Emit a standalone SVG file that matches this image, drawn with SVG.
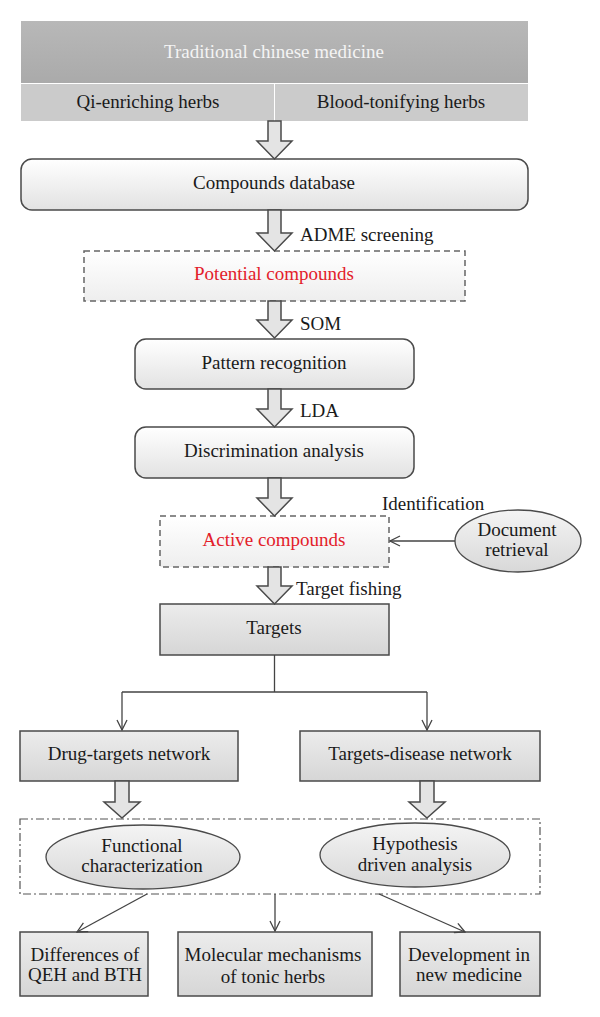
<svg xmlns="http://www.w3.org/2000/svg" width="600" height="1017" viewBox="0 0 600 1017">
<defs>
<linearGradient id="gBox" x1="0" y1="0" x2="0" y2="1"><stop offset="0" stop-color="#ffffff"/><stop offset="1" stop-color="#e2e2e2"/></linearGradient>
<linearGradient id="gRect" x1="0" y1="0" x2="0" y2="1"><stop offset="0" stop-color="#ececec"/><stop offset="1" stop-color="#d6d6d6"/></linearGradient>
<linearGradient id="gDash" x1="0" y1="0" x2="0" y2="1"><stop offset="0" stop-color="#ffffff"/><stop offset="1" stop-color="#eeeeee"/></linearGradient>
<linearGradient id="gEll" x1="0" y1="0" x2="0" y2="1"><stop offset="0" stop-color="#f4f4f4"/><stop offset="1" stop-color="#d8d8d8"/></linearGradient>
<linearGradient id="gTop" x1="0" y1="0" x2="0" y2="1"><stop offset="0" stop-color="#b8b8b8"/><stop offset="1" stop-color="#aaaaaa"/></linearGradient>
<marker id="open" viewBox="0 0 12 12" refX="11" refY="6" markerWidth="12" markerHeight="12" markerUnits="userSpaceOnUse" orient="auto"><path d="M1,1 L11,6 L1,11" fill="none" stroke="#444" stroke-width="1.3"/></marker>
</defs>
<style>
text{font-family:"Liberation Serif","Times New Roman",serif;font-size:19px;fill:#1a1a1a;text-anchor:middle}
.l{text-anchor:start}
.red{fill:#e3202a}
.wht{fill:#f4f4f4}
.rnd{fill:url(#gBox);stroke:#4a4a4a;stroke-width:1.5}
.rct{fill:url(#gRect);stroke:#4a4a4a;stroke-width:1.5}
.dash{fill:url(#gDash);stroke:#666;stroke-width:1.5;stroke-dasharray:6 4}
.ell{fill:url(#gEll);stroke:#4a4a4a;stroke-width:1.3}
.blk{fill:#e4e4e4;stroke:#4a4a4a;stroke-width:1.5;stroke-linejoin:miter}
.ln{fill:none;stroke:#444;stroke-width:1.3}
</style>
<g id="tcm">
<rect x="21" y="21" width="507" height="62" fill="url(#gTop)"/>
<text class="wht" x="274" y="58">Traditional chinese medicine</text>
</g>
<g id="qi">
<rect x="21" y="84" width="253" height="37" fill="#cbcbcb"/>
<text x="148" y="108">Qi-enriching herbs</text>
</g>
<g id="blood">
<rect x="275" y="84" width="253" height="37" fill="#cbcbcb"/>
<text x="401" y="108">Blood-tonifying herbs</text>
</g>
<g id="compounds-db">
<rect class="rnd" x="21" y="159" width="507" height="51" rx="11"/>
<text x="274" y="189">Compounds database</text>
</g>
<g id="potential">
<rect class="dash" x="84" y="251" width="381" height="50"/>
<text class="red" x="274" y="280">Potential compounds</text>
</g>
<g id="pattern">
<rect class="rnd" x="135" y="339" width="279" height="50" rx="11"/>
<text x="274" y="369">Pattern recognition</text>
</g>
<g id="discrimination">
<rect class="rnd" x="135" y="427" width="279" height="51" rx="11"/>
<text x="274" y="457">Discrimination analysis</text>
</g>
<g id="active">
<rect class="dash" x="160" y="516" width="229" height="51"/>
<text class="red" x="274" y="546">Active compounds</text>
</g>
<g id="document">
<ellipse class="ell" cx="518" cy="541" rx="63" ry="31"/>
<text x="517" y="536">Document</text>
<text x="517" y="556">retrieval</text>
</g>
<g id="targets">
<rect class="rct" x="160" y="604" width="229" height="51"/>
<text x="274" y="634">Targets</text>
</g>
<g id="drug-targets">
<rect class="rct" x="20" y="731" width="218" height="50"/>
<text x="129" y="760">Drug-targets network</text>
</g>
<g id="targets-disease">
<rect class="rct" x="300" y="731" width="240" height="50"/>
<text x="420" y="760">Targets-disease network</text>
</g>
<g id="analysis-group">
<rect x="20" y="819" width="520" height="75" fill="none" stroke="#555" stroke-width="1.2" stroke-dasharray="8 3 2 3"/>
</g>
<g id="functional">
<ellipse class="ell" cx="143" cy="857" rx="97" ry="32"/>
<text x="142" y="852">Functional</text>
<text x="142" y="872">characterization</text>
</g>
<g id="hypothesis">
<ellipse class="ell" cx="415" cy="855" rx="95" ry="32"/>
<text x="415" y="850">Hypothesis</text>
<text x="415" y="871">driven analysis</text>
</g>
<g id="differences">
<rect class="rct" x="20" y="932" width="128" height="64"/>
<text x="85" y="961">Differences of</text>
<text x="85" y="981">QEH and BTH</text>
</g>
<g id="molecular">
<rect class="rct" x="178" y="932" width="194" height="64"/>
<text x="273" y="961">Molecular mechanisms</text>
<text x="273" y="983">of tonic herbs</text>
</g>
<g id="development">
<rect class="rct" x="400" y="932" width="140" height="64"/>
<text x="469" y="961">Development in</text>
<text x="469" y="981">new medicine</text>
</g>
<g id="connectors">
<path class="blk" d="M268,121 L281,121 L281,141 L292,141 L274.5,159 L257,141 L268,141 Z"/>
<path class="blk" d="M268,210 L281,210 L281,233 L292,233 L274.5,251 L257,233 L268,233 Z"/>
<path class="blk" d="M268,301 L281,301 L281,320 L292,320 L274.5,338 L257,320 L268,320 Z"/>
<path class="blk" d="M268,389 L281,389 L281,409 L292,409 L274.5,427 L257,409 L268,409 Z"/>
<path class="blk" d="M268,478 L281,478 L281,498 L292,498 L274.5,516 L257,498 L268,498 Z"/>
<path class="blk" d="M268,567 L281,567 L281,586 L292,586 L274.5,604 L257,586 L268,586 Z"/>
<path class="blk" d="M115,781 L129,781 L129,802 L140,802 L122,818 L104,802 L115,802 Z"/>
<path class="blk" d="M420,781 L434,781 L434,802 L445,802 L427,818 L409,802 L420,802 Z"/>
<path class="ln" d="M455,541 L390,541" marker-end="url(#open)"/>
<path class="ln" d="M274.5,655 L274.5,692 M122,692 L427,692"/>
<path class="ln" d="M122,692 L122,730" marker-end="url(#open)"/>
<path class="ln" d="M427,692 L427,730" marker-end="url(#open)"/>
<path class="ln" d="M147,894 L77,932" marker-end="url(#open)"/>
<path class="ln" d="M275,894 L275,931" marker-end="url(#open)"/>
<path class="ln" d="M379,894 L465,932" marker-end="url(#open)"/>
<text class="l" x="300" y="241">ADME screening</text>
<text class="l" x="300" y="330">SOM</text>
<text class="l" x="300" y="417">LDA</text>
<text class="l" x="382" y="510">Identification</text>
<text class="l" x="296" y="595">Target fishing</text>
</g>
</svg>
